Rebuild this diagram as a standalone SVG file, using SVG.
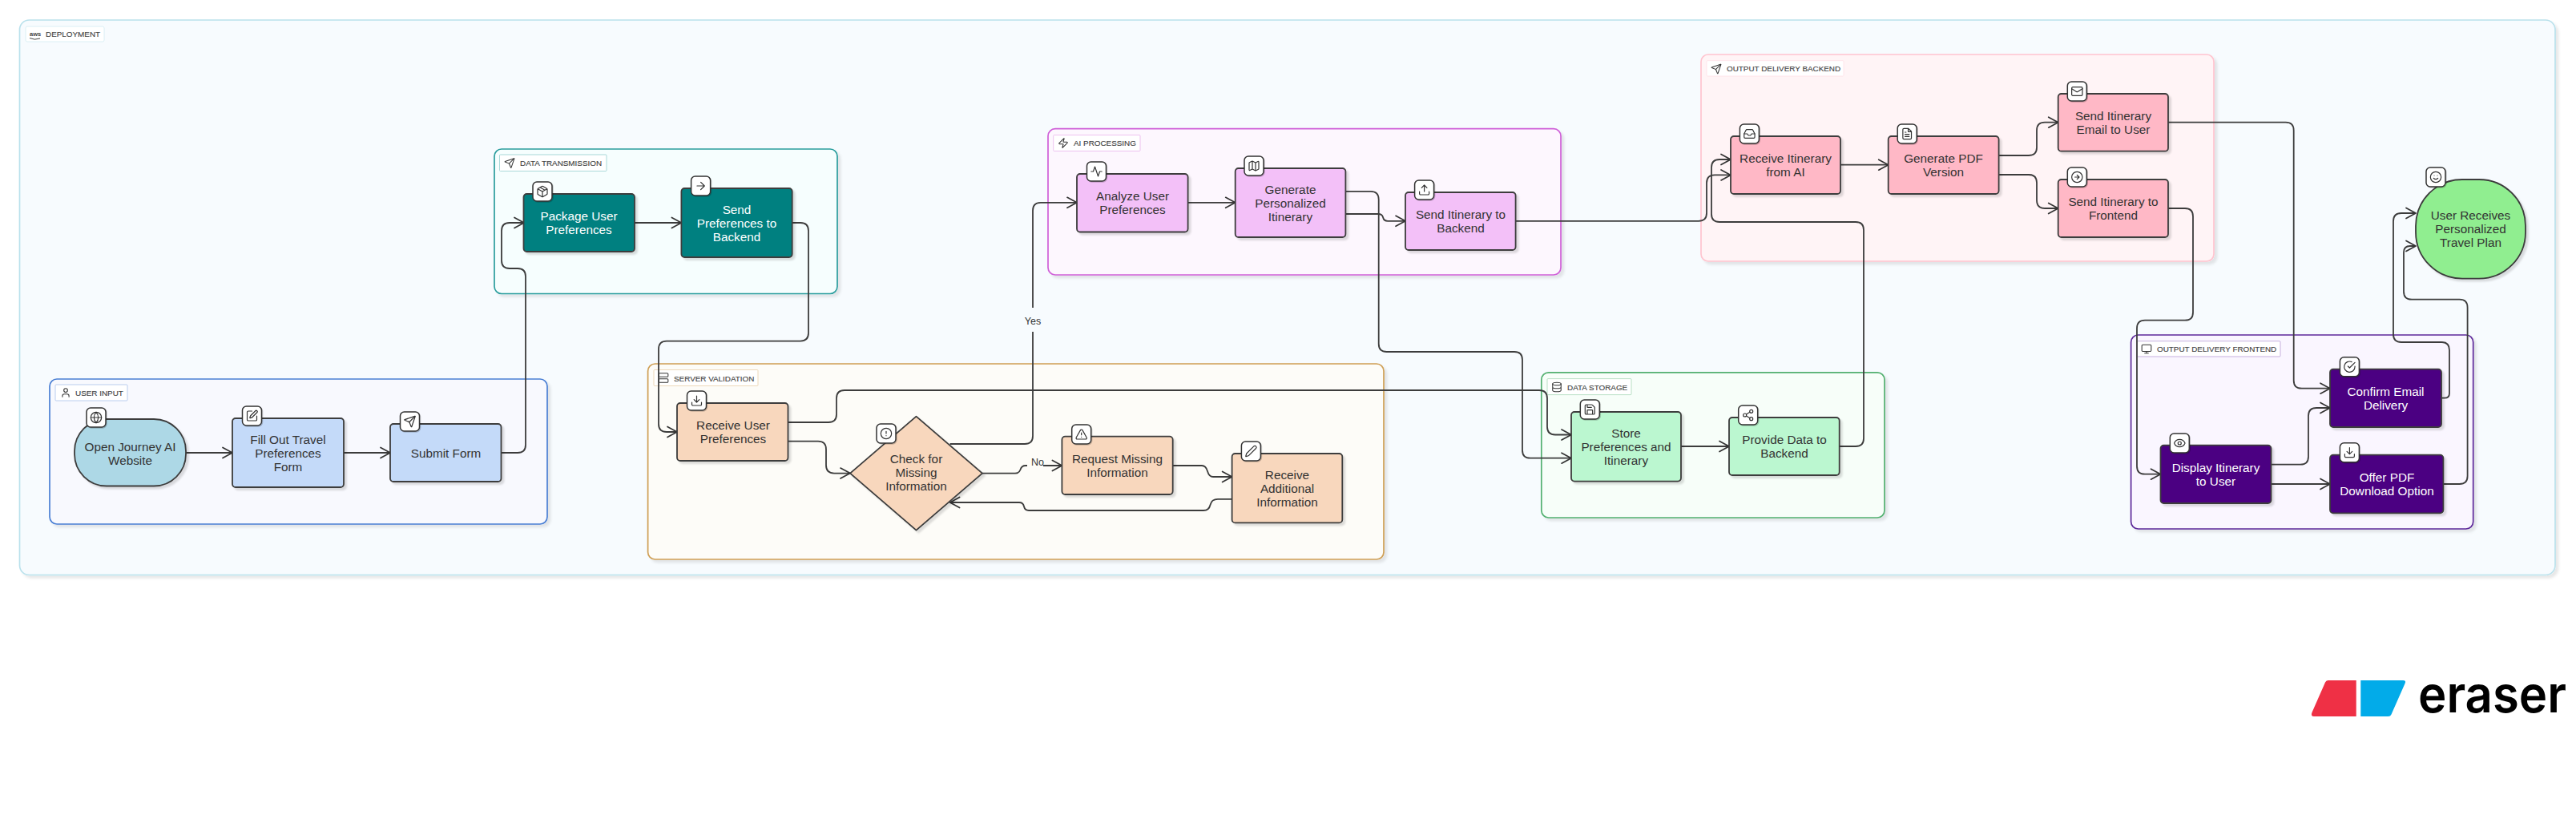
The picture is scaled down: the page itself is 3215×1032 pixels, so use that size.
<svg xmlns="http://www.w3.org/2000/svg" width="3215" height="1032" viewBox="0 0 3215 1032">
<style>
text{font-family:"Liberation Sans",Arial,sans-serif}
.t{font-size:15.3px;fill:#333;text-anchor:middle}
.w{fill:#fff}
.gl{font-size:9.900px;fill:#444;stroke:#444;stroke-width:.15}
.n{stroke:#3c3c3c;stroke-width:1.8;filter:url(#sh)}
.g{stroke-width:1.7;filter:url(#gs)}
.lb{fill:#fff;stroke-width:.8}
.ib{fill:#fff;stroke:#333;stroke-width:1.5;filter:url(#si)}
.ic{fill:none;stroke:#333;stroke-width:1.800;stroke-linecap:round;stroke-linejoin:round}
.cn{fill:none;stroke:#3c3c3c;stroke-width:1.8;marker-end:url(#a)}
.cl{font-size:12.5px;fill:#333;text-anchor:middle}
</style>
<defs>
<filter id="sh" x="-10%" y="-10%" width="125%" height="130%"><feDropShadow dx="3" dy="3" stdDeviation="1" flood-color="#000" flood-opacity=".13"/></filter>
<filter id="gs" x="-5%" y="-5%" width="110%" height="115%"><feDropShadow dx="3.500" dy="3.500" stdDeviation="1.500" flood-color="#000" flood-opacity=".09"/></filter>
<filter id="si" x="-20%" y="-20%" width="150%" height="150%"><feDropShadow dx="1" dy="1" stdDeviation=".6" flood-color="#000" flood-opacity=".2"/></filter>
<marker id="a" markerUnits="userSpaceOnUse" markerWidth="16" markerHeight="18" refX="13" refY="8" orient="auto" overflow="visible"><path d="M1 1.500L13 8L1 14.500" fill="none" stroke="#333" stroke-width="1.7" stroke-linecap="round" stroke-linejoin="round"/></marker>
<symbol id="globe" viewBox="0 0 24 24"><circle cx="12" cy="12" r="10"/><path d="M2 12h20M12 2a15.3 15.3 0 0 1 4 10 15.3 15.3 0 0 1-4 10 15.3 15.3 0 0 1-4-10 15.3 15.3 0 0 1 4-10z"/></symbol>
<symbol id="edit" viewBox="0 0 24 24"><path d="M12 3H5a2 2 0 0 0-2 2v14a2 2 0 0 0 2 2h14a2 2 0 0 0 2-2v-7"/><path d="M18.375 2.625a1 1 0 0 1 3 3l-9.013 9.014a2 2 0 0 1-.853.505l-2.873.84a.5.5 0 0 1-.62-.62l.84-2.873a2 2 0 0 1 .506-.852z"/></symbol>
<symbol id="send" viewBox="0 0 24 24"><path d="M14.536 21.686a.5.5 0 0 0 .937-.024l6.5-19a.496.496 0 0 0-.635-.635l-19 6.5a.5.5 0 0 0-.024.937l7.93 3.18a2 2 0 0 1 1.112 1.11z"/><path d="m21.854 2.147-10.94 10.939"/></symbol>
<symbol id="package" viewBox="0 0 24 24"><path d="m7.5 4.27 9 5.15M21 8a2 2 0 0 0-1-1.730l-7-4a2 2 0 0 0-2 0l-7 4A2 2 0 0 0 3 8v8a2 2 0 0 0 1 1.730l7 4a2 2 0 0 0 2 0l7-4A2 2 0 0 0 21 16ZM3.300 7l8.700 5 8.700-5M12 22V12"/></symbol>
<symbol id="arrow" viewBox="0 0 24 24"><path d="M5 12h14M12 5l7 7-7 7"/></symbol>
<symbol id="download" viewBox="0 0 24 24"><path d="M21 15v4a2 2 0 0 1-2 2H5a2 2 0 0 1-2-2v-4M7 10l5 5 5-5M12 15V3"/></symbol>
<symbol id="alert" viewBox="0 0 24 24"><circle cx="12" cy="12" r="10"/><path d="M12 8v4M12 16h.01"/></symbol>
<symbol id="tri" viewBox="0 0 24 24"><path d="m21.730 18-8-14a2 2 0 0 0-3.480 0l-8 14A2 2 0 0 0 4 21h16a2 2 0 0 0 1.730-3M12 9v4M12 17h.01"/></symbol>
<symbol id="pencil" viewBox="0 0 24 24"><path d="M21.174 6.812a1 1 0 0 0-3.986-3.987L3.842 16.174a2 2 0 0 0-.5.83l-1.321 4.352a.5.5 0 0 0 .623.622l4.353-1.320a2 2 0 0 0 .83-.497z"/></symbol>
<symbol id="activity" viewBox="0 0 24 24"><path d="M22 12h-4l-3 9L9 3l-3 9H2"/></symbol>
<symbol id="map" viewBox="0 0 24 24"><path d="M14.106 5.553a2 2 0 0 0 1.788 0l3.659-1.830A1 1 0 0 1 21 4.619v12.764a1 1 0 0 1-.553.894l-4.553 2.277a2 2 0 0 1-1.788 0l-4.212-2.106a2 2 0 0 0-1.788 0l-3.659 1.830A1 1 0 0 1 3 19.381V6.618a1 1 0 0 1 .553-.894l4.553-2.277a2 2 0 0 1 1.788 0zM15 5.764v15M9 3.236v15"/></symbol>
<symbol id="upload" viewBox="0 0 24 24"><path d="M21 15v4a2 2 0 0 1-2 2H5a2 2 0 0 1-2-2v-4M17 8l-5-5-5 5M12 3v12"/></symbol>
<symbol id="inbox" viewBox="0 0 24 24"><path d="M22 12h-6l-2 3h-4l-2-3H2"/><path d="M5.450 5.110 2 12v6a2 2 0 0 0 2 2h16a2 2 0 0 0 2-2v-6l-3.450-6.890A2 2 0 0 0 16.760 4H7.240a2 2 0 0 0-1.790 1.110z"/></symbol>
<symbol id="file" viewBox="0 0 24 24"><path d="M14.500 2H6a2 2 0 0 0-2 2v16a2 2 0 0 0 2 2h12a2 2 0 0 0 2-2V7.500L14.500 2zM14 2v6h6M16 13H8M16 17H8M10 9H8"/></symbol>
<symbol id="mail" viewBox="0 0 24 24"><rect x="2" y="4" width="20" height="16" rx="2"/><path d="m22 7-8.970 5.700a1.940 1.940 0 0 1-2.060 0L2 7"/></symbol>
<symbol id="circarrow" viewBox="0 0 24 24"><circle cx="12" cy="12" r="10"/><path d="M8 12h8M12 16l4-4-4-4"/></symbol>
<symbol id="save" viewBox="0 0 24 24"><path d="M15.200 3a2 2 0 0 1 1.400.6l3.800 3.800a2 2 0 0 1 .6 1.400V19a2 2 0 0 1-2 2H5a2 2 0 0 1-2-2V5a2 2 0 0 1 2-2zM17 21v-7a1 1 0 0 0-1-1H8a1 1 0 0 0-1 1v7M7 3v4a1 1 0 0 0 1 1h7"/></symbol>
<symbol id="share" viewBox="0 0 24 24"><circle cx="18" cy="5" r="3"/><circle cx="6" cy="12" r="3"/><circle cx="18" cy="19" r="3"/><path d="M8.590 13.510l6.830 3.980M15.410 6.510l-6.820 3.980"/></symbol>
<symbol id="eye" viewBox="0 0 24 24"><path d="M2.062 12.348a1 1 0 0 1 0-.696 10.750 10.750 0 0 1 19.876 0 1 1 0 0 1 0 .696 10.750 10.750 0 0 1-19.876 0"/><circle cx="12" cy="12" r="3"/></symbol>
<symbol id="check" viewBox="0 0 24 24"><path d="M22 11.080V12a10 10 0 1 1-5.930-9.140M22 4 12 14.010l-3-3"/></symbol>
<symbol id="smile" viewBox="0 0 24 24"><circle cx="12" cy="12" r="10"/><path d="M8 14s1.500 2 4 2 4-2 4-2M9 9h.01M15 9h.01"/></symbol>
<symbol id="user" viewBox="0 0 24 24"><path d="M19 21v-2a4 4 0 0 0-4-4H9a4 4 0 0 0-4 4v2"/><circle cx="12" cy="7" r="4"/></symbol>
<symbol id="server" viewBox="0 0 24 24"><rect x="2" y="2" width="20" height="8" rx="2"/><rect x="2" y="14" width="20" height="8" rx="2"/></symbol>
<symbol id="zap" viewBox="0 0 24 24"><path d="M4 14a1 1 0 0 1-.78-1.630l9.900-10.200a.5.5 0 0 1 .86.46l-1.920 6.020A1 1 0 0 0 13 10h7a1 1 0 0 1 .78 1.630l-9.900 10.200a.5.5 0 0 1-.86-.46l1.920-6.020A1 1 0 0 0 11 14z"/></symbol>
<symbol id="db" viewBox="0 0 24 24"><ellipse cx="12" cy="5" rx="9" ry="3"/><path d="M3 5V19A9 3 0 0 0 21 19V5M3 12A9 3 0 0 0 21 12"/></symbol>
<symbol id="monitor" viewBox="0 0 24 24"><rect x="2" y="3" width="20" height="14" rx="2"/><path d="M8 21h8M12 17v4"/></symbol>
</defs>

<g id="group-deployment"><rect class="g" x="24.500" y="25" width="3164.500" height="692.500" rx="12" fill="#f7fbfe" stroke="#b9e1ec"/><rect class="lb" x="32" y="33" width="98" height="19" rx="2" stroke="#d3ecf3"/><text x="37" y="45" font-size="7.500" font-weight="700" fill="#444">aws</text><path d="M37 47.500q6 3 13 .5" fill="none" stroke="#444" stroke-width="1"/><text class="gl" x="57" y="46">DEPLOYMENT</text></g>
<g id="group-user-input"><rect class="g" x="62" y="473" width="621" height="181" rx="9" fill="#f8f9fe" stroke="#4a7fd4"/><rect class="lb" x="69" y="480" width="90" height="20" rx="1" stroke="#a8c2eb"/><use class="ic" href="#user" x="75" y="483" width="14" height="14"/><text class="gl" x="94" y="494">USER INPUT</text></g>
<g id="group-data-transmission"><rect class="g" x="617" y="186" width="428" height="180.500" rx="9" fill="#f6fefe" stroke="#2a9d9d"/><rect class="lb" x="623.500" y="193" width="133.500" height="20.500" rx="1" stroke="#96cfcf"/><use class="ic" href="#send" x="629" y="196.500" width="14" height="14"/><text class="gl" x="649" y="207">DATA TRANSMISSION</text></g>
<g id="group-ai-processing"><rect class="g" x="1308" y="160.700" width="640" height="182.300" rx="9" fill="#fdf7fe" stroke="#cf5fd8"/><rect class="lb" x="1314.700" y="168.500" width="108.300" height="20" rx="1" stroke="#e8b4ec"/><use class="ic" href="#zap" x="1320" y="171.500" width="14" height="14"/><text class="gl" x="1340" y="182">AI PROCESSING</text></g>
<g id="group-server-validation"><rect class="g" x="808.600" y="454" width="918.400" height="244" rx="9" fill="#fdfcf8" stroke="#cf9f55"/><rect class="lb" x="816" y="461.500" width="130" height="20" rx="1" stroke="#e8cfaa"/><use class="ic" href="#server" x="821" y="464.500" width="14" height="14"/><text class="gl" x="841" y="475.500">SERVER VALIDATION</text></g>
<g id="group-data-storage"><rect class="g" x="1923.800" y="464.800" width="428.200" height="181.200" rx="9" fill="#f7fef9" stroke="#52b06f"/><rect class="lb" x="1931" y="472.600" width="105" height="20" rx="1" stroke="#a8d8b7"/><use class="ic" href="#db" x="1936" y="476" width="14" height="14"/><text class="gl" x="1956" y="486.500">DATA STORAGE</text></g>
<g id="group-output-backend"><rect class="g" x="2123" y="68" width="640" height="258" rx="9" fill="#fff4f6" stroke="#ffc4cf"/><rect class="lb" x="2130" y="75.700" width="171" height="19.300" rx="1" stroke="#ffe1e7"/><use class="ic" href="#send" x="2135" y="79" width="14" height="14"/><text class="gl" x="2155" y="89">OUTPUT DELIVERY BACKEND</text></g>
<g id="group-output-frontend"><rect class="g" x="2659.600" y="418" width="427.100" height="242" rx="9" fill="#faf6ff" stroke="#5e2a9a"/><rect class="lb" x="2667.500" y="425.700" width="178.500" height="19.300" rx="1" stroke="#b99fd6"/><use class="ic" href="#monitor" x="2672" y="428.500" width="14" height="14"/><text class="gl" x="2692" y="439">OUTPUT DELIVERY FRONTEND</text></g>

<g id="connectors">
<path class="cn" d="M232 565H290"/>
<path class="cn" d="M429 565H487"/>
<path class="cn" d="M625.500 565H646Q656 565 656 555V345Q656 335 646 335H636Q626 335 626 325V288Q626 278 636 278H654"/>
<path class="cn" d="M792 278H850.400"/>
<path class="cn" d="M989 278H999Q1009 278 1009 288V415.600Q1009 425.600 999 425.600H832Q822 425.600 822 435.600V529Q822 539 832 539H845"/>
<path class="cn" d="M983.500 550.700H1021Q1031 550.700 1031 560.700V580.600Q1031 590.600 1041 590.600H1061"/>
<path class="cn" d="M983.500 527H1034Q1044 527 1044 517V497Q1044 487 1054 487H1921Q1931 487 1931 497V532.500Q1931 542.500 1941 542.500H1961"/>
<path class="cn" d="M1185.600 554H1279Q1289 554 1289 544V262.800Q1289 252.800 1299 252.800H1344"/>
<path class="cn" d="M1226 590.600H1267Q1272 590.600 1273.500 586Q1275 581 1280 581H1325.400"/>
<path class="cn" d="M1463.700 581H1500Q1505 581 1507 588Q1509 595 1514 595H1537.600"/>
<path class="cn" d="M1537.600 622.800H1520Q1512 622.800 1510.500 630Q1509 637 1502 637H1284Q1279 637 1278 632Q1277 627 1272 627H1185.600"/>
<path class="cn" d="M1482.600 252.800H1541.700"/>
<path class="cn" d="M1679.400 267H1720Q1725 267 1726 271Q1727 275.800 1732 275.800H1754"/>
<path class="cn" d="M1679.400 238.800H1710.700Q1720.700 238.800 1720.700 248.800V429Q1720.700 439 1730.700 439H1890Q1900 439 1900 449V561.700Q1900 571.700 1910 571.700H1961"/>
<path class="cn" d="M1891.600 275.800H2120Q2130 275.800 2130 265.800V228.400Q2130 218.400 2140 218.400H2160"/>
<path class="cn" d="M2098 557H2158"/>
<path class="cn" d="M2295.700 557H2316Q2326 557 2326 547V287Q2326 277 2316 277H2146Q2136 277 2136 267V209Q2136 199 2146 199H2160"/>
<path class="cn" d="M2297 205.700H2356.700"/>
<path class="cn" d="M2494.600 194H2532Q2542 194 2542 184V162.700Q2542 152.700 2552 152.700H2568.700"/>
<path class="cn" d="M2494.600 218H2532Q2542 218 2542 228V250Q2542 260 2552 260H2568.700"/>
<path class="cn" d="M2706 152.700H2852.700Q2862.700 152.700 2862.700 162.700V474.700Q2862.700 484.700 2872.700 484.700H2908"/>
<path class="cn" d="M2706 260H2727Q2737 260 2737 270V389.700Q2737 399.700 2727 399.700H2677Q2667 399.700 2667 409.700V581.700Q2667 591.700 2677 591.700H2696.500"/>
<path class="cn" d="M2834.500 579.700H2871Q2881 579.700 2881 569.700V519Q2881 509 2891 509H2908"/>
<path class="cn" d="M2834.500 604H2908"/>
<path class="cn" d="M3047 496.700H3051Q3057 496.700 3057 490.700V437Q3057 427 3047 427H2997Q2987 427 2987 417V276Q2987 266 2997 266H3015"/>
<path class="cn" d="M3049.400 604H3069.600Q3079.600 604 3079.600 594V383.700Q3079.600 373.700 3069.600 373.700H3010Q3000 373.700 3000 363.700V315Q3000 307 3008 307H3015"/>
<rect x="1279" y="384" width="20" height="30" fill="#f7fbfe"/><text class="cl" x="1289" y="404.500">Yes</text>
<rect x="1282" y="568" width="20" height="17" fill="#fdfcf8"/><text class="cl" x="1295" y="581">No</text>
</g>

<g id="node-open-journey"><rect class="n" x="93" y="523" width="139" height="83.500" rx="40" fill="#add8e6"/><rect class="ib" x="108" y="509" width="24" height="24" rx="5"/><use class="ic" href="#globe" x="112" y="513" width="16" height="16"/><text class="t"><tspan x="162.500" y="562.500">Open Journey AI</tspan><tspan x="162.500" y="579.500">Website</tspan></text></g>
<g id="node-fill-out"><rect class="n" x="290" y="522" width="139" height="86" rx="4" fill="#c4daf9"/><rect class="ib" x="302.500" y="507" width="24" height="24" rx="5"/><use class="ic" href="#edit" x="306.500" y="511" width="16" height="16"/><text class="t"><tspan x="359.500" y="553.500">Fill Out Travel</tspan><tspan x="359.500" y="570.500">Preferences</tspan><tspan x="359.500" y="587.500">Form</tspan></text></g>
<g id="node-submit"><rect class="n" x="487" y="529" width="138.500" height="72" rx="4" fill="#c4daf9"/><rect class="ib" x="499.500" y="514" width="24" height="24" rx="5"/><use class="ic" href="#send" x="503.500" y="518" width="16" height="16"/><text class="t" x="556.500" y="570.500">Submit Form</text></g>
<g id="node-package"><rect class="n" x="653.500" y="242" width="138.500" height="72" rx="4" fill="#008080"/><rect class="ib" x="665" y="227" width="24" height="24" rx="5"/><use class="ic" href="#package" x="669" y="231" width="16" height="16"/><text class="t w"><tspan x="722.500" y="275">Package User</tspan><tspan x="722.500" y="292">Preferences</tspan></text></g>
<g id="node-send-preferences"><rect class="n" x="850.400" y="235" width="138.300" height="86" rx="4" fill="#008080"/><rect class="ib" x="862.600" y="220" width="24" height="24" rx="5"/><use class="ic" href="#arrow" x="866.600" y="224" width="16" height="16"/><text class="t w"><tspan x="919.500" y="266.500">Send</tspan><tspan x="919.500" y="283.500">Preferences to</tspan><tspan x="919.500" y="300.500">Backend</tspan></text></g>
<g id="node-receive-user"><rect class="n" x="845" y="503" width="138.500" height="72" rx="4" fill="#f8d7bd"/><rect class="ib" x="857.500" y="488" width="24" height="24" rx="5"/><use class="ic" href="#download" x="861.500" y="492" width="16" height="16"/><text class="t"><tspan x="915" y="536">Receive User</tspan><tspan x="915" y="553">Preferences</tspan></text></g>
<g id="node-check"><path class="n" d="M1143.500 519.600L1226 590.600L1143.500 661.600L1061 590.600Z" fill="#f8d7bd" stroke-linejoin="round"/><rect class="ib" x="1094" y="529" width="24" height="24" rx="5"/><use class="ic" href="#alert" x="1098" y="533" width="16" height="16"/><text class="t"><tspan x="1143.500" y="578">Check for</tspan><tspan x="1143.500" y="595">Missing</tspan><tspan x="1143.500" y="612">Information</tspan></text></g>
<g id="node-request"><rect class="n" x="1325.400" y="544.700" width="138.300" height="72.300" rx="4" fill="#f8d7bd"/><rect class="ib" x="1337.700" y="530" width="24" height="24" rx="5"/><use class="ic" href="#tri" x="1341.700" y="534" width="16" height="16"/><text class="t"><tspan x="1394.500" y="578">Request Missing</tspan><tspan x="1394.500" y="595">Information</tspan></text></g>
<g id="node-additional"><rect class="n" x="1537.600" y="566" width="137.700" height="86.400" rx="4" fill="#f8d7bd"/><rect class="ib" x="1549.400" y="551" width="24" height="24" rx="5"/><use class="ic" href="#pencil" x="1553.400" y="555" width="16" height="16"/><text class="t"><tspan x="1606.500" y="597.500">Receive</tspan><tspan x="1606.500" y="614.500">Additional</tspan><tspan x="1606.500" y="631.500">Information</tspan></text></g>
<g id="node-analyze"><rect class="n" x="1344" y="217" width="138.600" height="72.500" rx="4" fill="#f3c0f8"/><rect class="ib" x="1356.500" y="202" width="24" height="24" rx="5"/><use class="ic" href="#activity" x="1360.500" y="206" width="16" height="16"/><text class="t"><tspan x="1413.500" y="250">Analyze User</tspan><tspan x="1413.500" y="267">Preferences</tspan></text></g>
<g id="node-generate"><rect class="n" x="1541.700" y="210" width="137.700" height="86" rx="4" fill="#f3c0f8"/><rect class="ib" x="1553" y="195" width="24" height="24" rx="5"/><use class="ic" href="#map" x="1557" y="199" width="16" height="16"/><text class="t"><tspan x="1610.500" y="241.500">Generate</tspan><tspan x="1610.500" y="258.500">Personalized</tspan><tspan x="1610.500" y="275.500">Itinerary</tspan></text></g>
<g id="node-send-itinerary"><rect class="n" x="1754" y="240" width="137.600" height="72" rx="4" fill="#f3c0f8"/><rect class="ib" x="1765.600" y="225" width="24" height="24" rx="5"/><use class="ic" href="#upload" x="1769.600" y="229" width="16" height="16"/><text class="t"><tspan x="1823" y="273">Send Itinerary to</tspan><tspan x="1823" y="290">Backend</tspan></text></g>
<g id="node-store"><rect class="n" x="1961" y="514" width="137" height="86.600" rx="4" fill="#bbf7d0"/><rect class="ib" x="1972.300" y="499" width="24" height="24" rx="5"/><use class="ic" href="#save" x="1976.300" y="503" width="16" height="16"/><text class="t"><tspan x="2029.500" y="545.500">Store</tspan><tspan x="2029.500" y="562.500">Preferences and</tspan><tspan x="2029.500" y="579.500">Itinerary</tspan></text></g>
<g id="node-provide"><rect class="n" x="2158" y="521" width="137.700" height="72" rx="4" fill="#bbf7d0"/><rect class="ib" x="2169.700" y="506" width="24" height="24" rx="5"/><use class="ic" href="#share" x="2173.700" y="510" width="16" height="16"/><text class="t"><tspan x="2227" y="554">Provide Data to</tspan><tspan x="2227" y="571">Backend</tspan></text></g>
<g id="node-receive-ai"><rect class="n" x="2160" y="170" width="137" height="72" rx="4" fill="#ffb8c6"/><rect class="ib" x="2171.400" y="155" width="24" height="24" rx="5"/><use class="ic" href="#inbox" x="2175.400" y="159" width="16" height="16"/><text class="t"><tspan x="2228.500" y="203">Receive Itinerary</tspan><tspan x="2228.500" y="220">from AI</tspan></text></g>
<g id="node-pdf"><rect class="n" x="2356.700" y="170" width="137.900" height="72" rx="4" fill="#ffb8c6"/><rect class="ib" x="2368.200" y="155" width="24" height="24" rx="5"/><use class="ic" href="#file" x="2372.200" y="159" width="16" height="16"/><text class="t"><tspan x="2425.500" y="203">Generate PDF</tspan><tspan x="2425.500" y="220">Version</tspan></text></g>
<g id="node-send-email"><rect class="n" x="2568.700" y="117" width="137.300" height="71.700" rx="4" fill="#ffb8c6"/><rect class="ib" x="2580.300" y="102" width="24" height="24" rx="5"/><use class="ic" href="#mail" x="2584.300" y="106" width="16" height="16"/><text class="t"><tspan x="2637.500" y="150">Send Itinerary</tspan><tspan x="2637.500" y="167">Email to User</tspan></text></g>
<g id="node-send-frontend"><rect class="n" x="2568.700" y="224" width="137.300" height="72" rx="4" fill="#ffb8c6"/><rect class="ib" x="2580.300" y="209" width="24" height="24" rx="5"/><use class="ic" href="#circarrow" x="2584.300" y="213" width="16" height="16"/><text class="t"><tspan x="2637.500" y="257">Send Itinerary to</tspan><tspan x="2637.500" y="274">Frontend</tspan></text></g>
<g id="node-display"><rect class="n" x="2696.500" y="555.700" width="138" height="72.300" rx="4" fill="#4b0082"/><rect class="ib" x="2708.300" y="541" width="24" height="24" rx="5"/><use class="ic" href="#eye" x="2712.300" y="545" width="16" height="16"/><text class="t w"><tspan x="2765.500" y="589">Display Itinerary</tspan><tspan x="2765.500" y="606">to User</tspan></text></g>
<g id="node-confirm"><rect class="n" x="2908" y="460.700" width="139" height="72.300" rx="4" fill="#4b0082"/><rect class="ib" x="2920.400" y="445.700" width="24" height="24" rx="5"/><use class="ic" href="#check" x="2924.400" y="449.700" width="16" height="16"/><text class="t w"><tspan x="2977.500" y="494">Confirm Email</tspan><tspan x="2977.500" y="511">Delivery</tspan></text></g>
<g id="node-offer"><rect class="n" x="2908" y="567.700" width="141.400" height="72.600" rx="4" fill="#4b0082"/><rect class="ib" x="2920.400" y="552.700" width="24" height="24" rx="5"/><use class="ic" href="#download" x="2924.400" y="556.700" width="16" height="16"/><text class="t w"><tspan x="2979" y="601">Offer PDF</tspan><tspan x="2979" y="618">Download Option</tspan></text></g>
<g id="node-user-receives"><rect class="n" x="3015" y="224" width="137" height="123.700" rx="58" fill="#90ee90"/><rect class="ib" x="3028" y="209" width="24" height="24" rx="5"/><use class="ic" href="#smile" x="3032" y="213" width="16" height="16"/><text class="t"><tspan x="3083.500" y="274">User Receives</tspan><tspan x="3083.500" y="291">Personalized</tspan><tspan x="3083.500" y="308">Travel Plan</tspan></text></g>

<g id="eraser-logo"><path d="M2905.500 849H2940.700V894H2888Q2883.500 894 2885.500 889L2902 851.500Q2903 849 2905.500 849Z" fill="#ef3045"/><path d="M2946.300 849H2999Q3003.500 849 3001.500 853L2984.500 891.500Q2983.500 894 2980.500 894H2946.300Z" fill="#02abe9"/><text x="3018" y="889" font-size="64" font-weight="600" fill="#000" textLength="185" lengthAdjust="spacingAndGlyphs" style="font-family:Inter,'Liberation Sans',sans-serif">eraser</text></g>
</svg>
